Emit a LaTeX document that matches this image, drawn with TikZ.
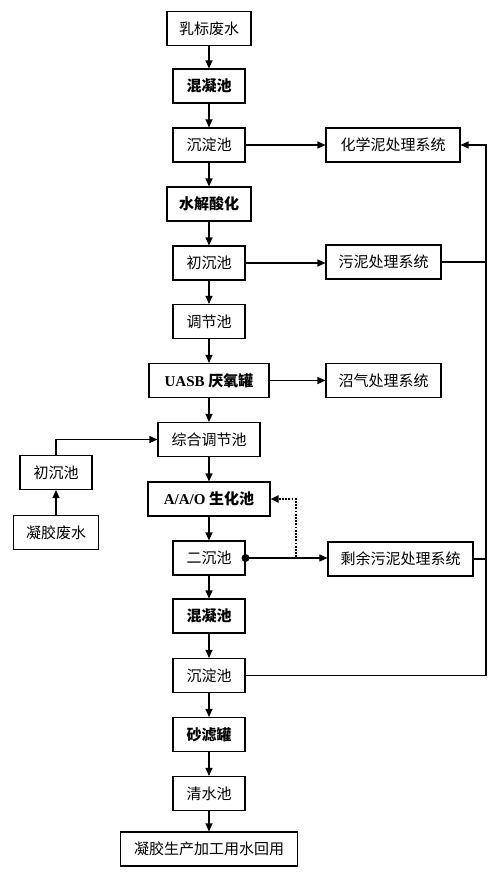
\documentclass[tikz,border=0pt]{standalone}
\usepackage{fontspec}
\setmainfont{Liberation Serif}
\newfontfamily\cjk{Noto Sans CJK SC}
\usetikzlibrary{arrows.meta}

\begin{document}
\begin{tikzpicture}[x=1pt, y=-1pt, line width=1.1pt,
  box/.style={draw, minimum height=34pt, inner sep=0pt, font=\fontsize{15}{18}\selectfont\cjk},
  boldbox/.style={box, font=\fontsize{15}{18}\selectfont\bfseries\cjk},
  arr/.style={-{Triangle[length=8pt,width=7pt]}},
  dotarr/.style={arr, line width=1.8pt, dash pattern=on 1.8pt off 1.4pt}]
\def\mainx{209}
\def\rightx{486}

\useasboundingbox (0,0) rectangle (500,880);

\node[box, minimum width=84pt] (rubiao) at (\mainx,28.5) {乳标废水};
\node[boldbox, minimum width=72pt] (hunning1) at (\mainx,86) {混凝池};
\node[box, minimum width=72pt] (chendian1) at (\mainx,145) {沉淀池};
\node[boldbox, minimum width=84pt] (shuijie) at (\mainx,204) {水解酸化};
\node[box, minimum width=72pt] (chuchen1) at (\mainx,263) {初沉池};
\node[box, minimum width=72pt] (tiaojie) at (\mainx,321.5) {调节池};
\node[boldbox, minimum width=120pt] (uasb) at (\mainx,380.5) {{\rmfamily UASB }厌氧罐};
\node[box, minimum width=102pt] (zonghe) at (\mainx,439.5) {综合调节池};
\node[boldbox, minimum width=122pt] (aao) at (\mainx,499) {{\rmfamily A/A/O }生化池};
\node[box, minimum width=72pt] (erchen) at (\mainx,558) {二沉池};
\node[boldbox, minimum width=72pt] (hunning2) at (\mainx,616) {混凝池};
\node[box, minimum width=72pt] (chendian2) at (\mainx,675.5) {沉淀池};
\node[boldbox, minimum width=72pt] (shalv) at (\mainx,734.5) {砂滤罐};
\node[box, minimum width=72pt] (qingshui) at (\mainx,793.5) {清水池};
\node[box, minimum width=177pt] (huiyong) at (\mainx,849) {凝胶生产加工用水回用};

\node[box, minimum width=134pt] (huaxue) at (393,145) {化学泥处理系统};
\node[box, minimum width=115pt] (wuni) at (383.5,262) {污泥处理系统};
\node[box, minimum width=115pt] (zhaoqi) at (383.5,380.5) {沼气处理系统};
\node[box, minimum width=145pt] (shengyu) at (400.5,559) {剩余污泥处理系统};

\node[box, minimum width=72pt] (chuchen2) at (56,472.5) {初沉池};
\node[box, minimum width=85pt] (ningjiao) at (56,532.5) {凝胶废水};

\draw[arr] (rubiao) -- (hunning1);
\draw[arr] (hunning1) -- (chendian1);
\draw[arr] (chendian1) -- (shuijie);
\draw[arr] (shuijie) -- (chuchen1);
\draw[arr] (chuchen1) -- (tiaojie);
\draw[arr] (tiaojie) -- (uasb);
\draw[arr] (uasb) -- (zonghe);
\draw[arr] (zonghe) -- (aao);
\draw[arr] (aao) -- (erchen);
\draw[arr] (erchen) -- (hunning2);
\draw[arr] (hunning2) -- (chendian2);
\draw[arr] (chendian2) -- (shalv);
\draw[arr] (shalv) -- (qingshui);
\draw[arr] (qingshui) -- (huiyong);

\draw[arr] (chendian1) -- (huaxue);
\draw[arr] (chuchen1.east) -- (chuchen1.east -| wuni.west);
\draw[arr] (uasb) -- (zhaoqi);
\draw[arr] (erchen.east) -- (erchen.east -| shengyu.west);

\draw[arr] (ningjiao) -- (chuchen2);
\draw[arr] (chuchen2.north) |- (zonghe.west);

\coordinate (rtop) at (\rightx,145);
\coordinate (rbot) at (\rightx,675.5);
\draw[arr] (chendian2.east) -- (rbot) -- (rtop) -- (huaxue.east);
\draw (wuni.east) -- (wuni.east -| rtop);
\draw (shengyu.east) -- (shengyu.east -| rtop);

\coordinate (dotturn) at (296,558);
\draw[dotarr] (erchen.east) -- (dotturn) |- (aao.east);
\fill (erchen.east) circle (4pt);

\end{tikzpicture}
\end{document}
